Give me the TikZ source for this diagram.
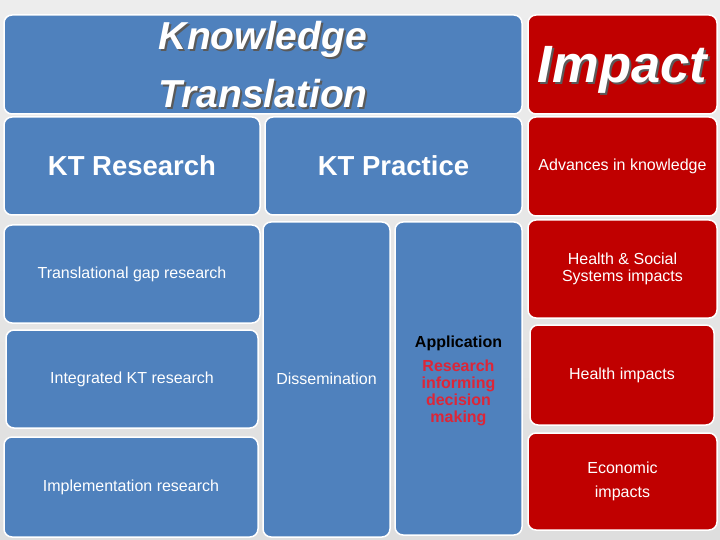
\documentclass[tikz,border=0pt]{standalone}
\usepackage{fontspec}
\setmainfont{Liberation Sans}
\definecolor{ktblue}{HTML}{4F81BD}
\definecolor{impred}{HTML}{C00000}
\definecolor{apred}{RGB}{220,38,56}
\definecolor{bgtop}{HTML}{EDEDED}
\definecolor{bgbot}{HTML}{DEDEDE}
\definecolor{shade}{HTML}{5A5A5A}
\newcommand{\shadowtxt}[1]{\makebox[0pt][l]{\hspace{2pt}\raisebox{-2pt}{\textcolor{shade}{#1}}}#1}
\tikzset{
  box/.style={draw=white, line width=1.5pt, rounded corners=8pt, anchor=north west,
    inner sep=0pt, outer sep=0pt, text=white, align=center},
  bluebox/.style={box, fill=ktblue},
  redbox/.style={box, fill=impred},
  txt/.style={text=white, align=center, inner sep=0pt},
  bigtitle/.style={font=\bfseries\itshape\fontsize{39}{58}\selectfont},
  imptitle/.style={font=\bfseries\itshape\fontsize{52.5}{60}\selectfont},
  headtxt/.style={font=\bfseries\fontsize{27.5}{33}\selectfont},
  smalltxt/.style={font=\fontsize{16}{17}\selectfont},
}
\begin{document}
\begin{tikzpicture}[x=1pt,y=-1pt]
\useasboundingbox (0,0) rectangle (720,540);
\shade[top color=bgtop, bottom color=bgbot] (0,0) rectangle (720,540);
% top row
\node[bluebox, minimum width=518, minimum height=99] (kt) at (4,15) {};
\node[txt, bigtitle] (kttitle) at ([yshift=-1.5]kt.center) {\shadowtxt{Knowledge}\\\shadowtxt{Translation}};
\node[redbox, minimum width=189, minimum height=99] (imp) at (528,15) {};
\node[txt, imptitle] (imptitle) at ([yshift=-6]imp.center) {\shadowtxt{Impact}};
% second row
\node[bluebox, headtxt, minimum width=256, minimum height=98] (ktr) at (4,117) {KT Research};
\node[bluebox, headtxt, minimum width=257, minimum height=98] (ktp) at (265,117) {KT Practice};
\node[redbox, smalltxt, minimum width=189, minimum height=99] (adv) at (528,117) {\raisebox{-2pt}{Advances in knowledge}};
% left column
\node[bluebox, smalltxt, minimum width=256, minimum height=98] (tg) at (4,225) {\raisebox{-2pt}{Translational gap research}};
\node[bluebox, smalltxt, minimum width=252, minimum height=98] (ikt) at (6,330) {Integrated KT research};
\node[bluebox, smalltxt, minimum width=254, minimum height=100] (impl) at (4,437) {\raisebox{-1pt}{Implementation research}};
% middle columns
\node[bluebox, smalltxt, minimum width=127, minimum height=315] (diss) at (263,222) {\raisebox{2pt}{Dissemination}};
\node[bluebox, minimum width=127, minimum height=313] (app) at (395,222) {};
\node[txt, align=center, font=\bfseries\fontsize{16}{17}\selectfont] (apptxt) at ([yshift=-2.5]app.center)
  {\textcolor{black}{Application}\\[7pt]\textcolor{apred}{Research}\\\textcolor{apred}{informing}\\\textcolor{apred}{decision}\\\textcolor{apred}{making}};
% right column
\node[redbox, smalltxt, minimum width=189, minimum height=98] (hs) at (528,220) {Health \& Social\\Systems impacts};
\node[redbox, font=\fontsize{16}{24}\selectfont, minimum width=184, minimum height=100] (hi) at (530,325) {Health impacts};
\node[redbox, font=\fontsize{16}{24}\selectfont, minimum width=189, minimum height=97] (econ) at (528,433) {Economic\\impacts};
\end{tikzpicture}
\end{document}
